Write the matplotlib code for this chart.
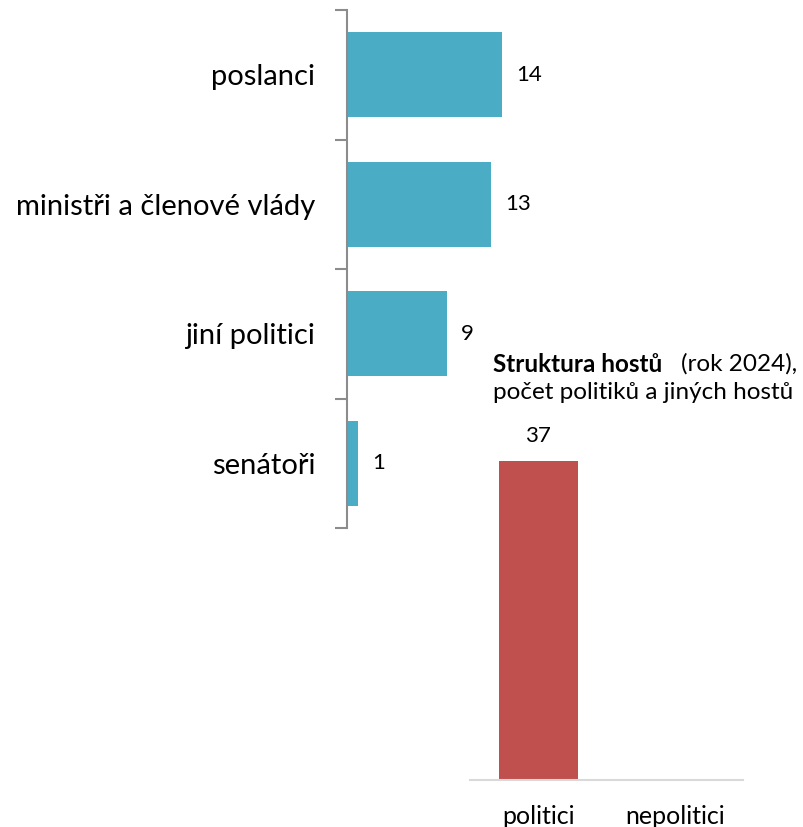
import matplotlib
matplotlib.use("Agg")
import matplotlib.pyplot as plt

plt.rcParams['font.family'] = ['Lato', 'DejaVu Sans']

categories = ["poslanci", "ministři a členové vlády", "jiní politici", "senátoři"]
values = [14, 13, 9, 1]

groups = ["politici", "nepolitici"]
group_values = [37, 0]

title_bold = "Struktura hostů"
title_rest = "(rok 2024),"
title_line2 = "počet politiků a jiných hostů"

W, H = 804, 827
fig = plt.figure(figsize=(W / 100, H / 100), dpi=100)

def px_axes(x0, y0, x1, y1):
    return fig.add_axes([x0 / W, 1 - y1 / H, (x1 - x0) / W, (y1 - y0) / H])

teal = "#4BACC6"
red = "#C0504D"
spine_gray = "#8C8C8C"

# --- horizontal bars ---
ax = px_axes(347, 10, 647, 528)
ypos = list(range(len(categories)))
ax.barh(ypos, values, height=0.66, color=teal)
ax.set_xlim(0, 300 / 11.07)
ax.set_ylim(len(categories) - 0.5, -0.5)
for s in ["top", "right", "bottom"]:
    ax.spines[s].set_visible(False)
ax.spines["left"].set_color(spine_gray)
ax.spines["left"].set_linewidth(1.5)
ax.set_xticks([])
ax.set_yticks([i - 0.5 for i in range(len(categories) + 1)])
ax.set_yticklabels([])
ax.tick_params(axis="y", which="major", length=9, width=1.5, color=spine_gray)
ax.set_yticks(ypos, minor=True)
ax.set_yticklabels(categories, minor=True, fontsize=21)
ax.tick_params(axis="y", which="minor", length=0, pad=23)
for y, v in zip(ypos, values):
    ax.annotate(str(v), (v, y), xytext=(10.5, 0), textcoords="offset points",
                ha="left", va="center", fontsize=16)

# --- vertical bars ---
bx = px_axes(470, 440, 743, 780)
xpos = list(range(len(groups)))
bx.bar(xpos, group_values, width=0.58, color=red)
bx.set_xlim(-0.5, len(groups) - 0.5)
bx.set_ylim(0, 340 / 8.62)
for s in ["top", "right", "left"]:
    bx.spines[s].set_visible(False)
bx.spines["bottom"].set_color("#D9D9D9")
bx.spines["bottom"].set_linewidth(1.5)
bx.set_yticks([])
bx.set_xticks(xpos)
bx.set_xticklabels(groups, fontsize=18)
bx.tick_params(axis="x", length=0, pad=18)
for x, v in zip(xpos, group_values):
    if v:
        bx.annotate(str(v), (x, v), xytext=(0, 11), textcoords="offset points",
                    ha="center", va="bottom", fontsize=16)

# --- title ---
fig.text(493 / W, 1 - 364 / H, title_bold, fontsize=17.5, fontweight="bold",
         ha="left", va="center")
fig.text(797 / W, 1 - 364 / H, title_rest, fontsize=17.5, ha="right", va="center")
fig.text(493 / W, 1 - 393 / H, title_line2, fontsize=17.5, ha="left", va="center")

fig.savefig("out.png", dpi=100)
